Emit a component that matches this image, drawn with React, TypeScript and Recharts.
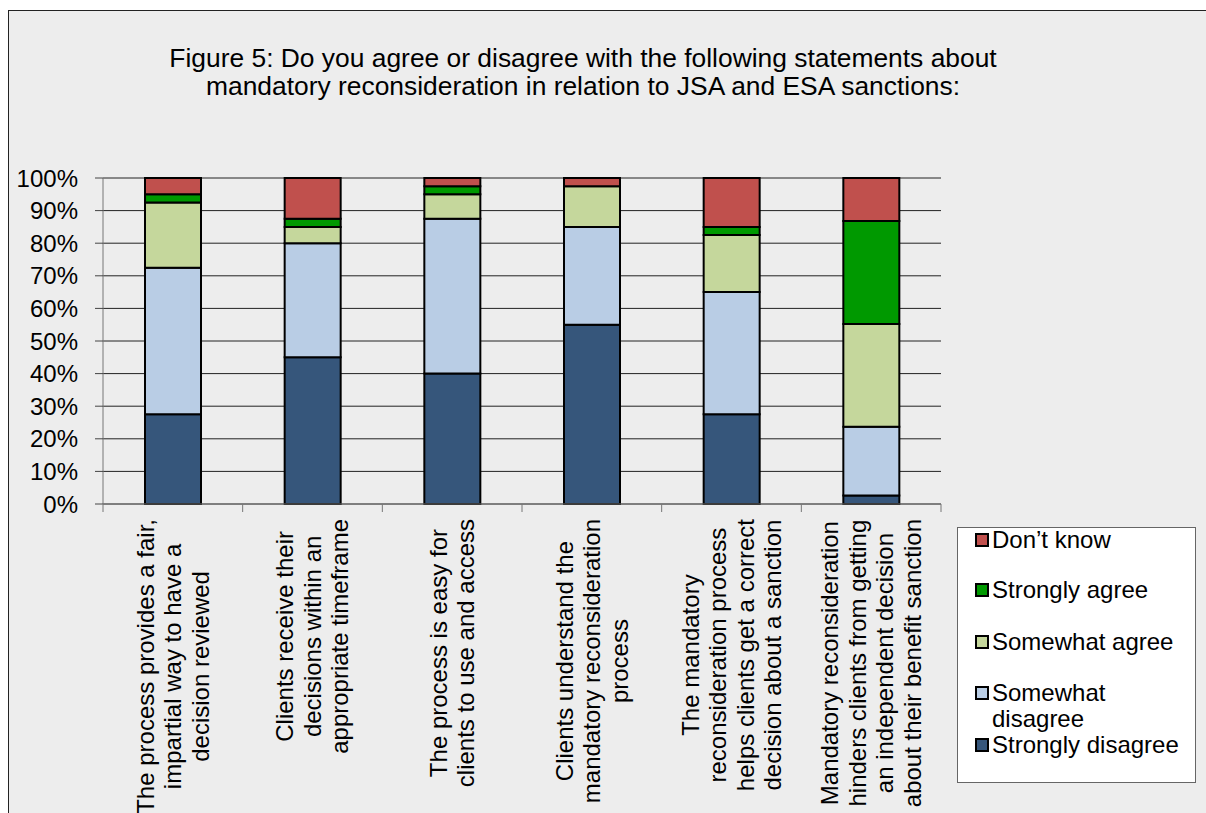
import React from "react";
import { BarChart, Bar, XAxis, YAxis, CartesianGrid, Legend } from "recharts";

const FONT = "'Liberation Sans', Arial, sans-serif";

const categories = [
  "The process provides a fair,\nimpartial way to have a\ndecision reviewed",
  "Clients receive their\ndecisions within an\nappropriate timeframe",
  "The process is easy for\nclients to use and access",
  "Clients understand the\nmandatory reconsideration\nprocess",
  "The mandatory\nreconsideration process\nhelps clients get a correct\ndecision about a sanction",
  "Mandatory reconsideration\nhinders clients from getting\nan independent decision\nabout their benefit sanction",
];

const stronglyDisagree = [27.5, 45, 40, 55, 27.5, 2.6];
const somewhatDisagree = [45, 35, 47.5, 30, 37.5, 21.1];
const somewhatAgree = [20, 5, 7.5, 12.5, 17.5, 31.6];
const stronglyAgree = [2.5, 2.5, 2.5, 0, 2.5, 31.6];
const dontKnow = [5, 12.5, 2.5, 2.5, 15, 13.2];

const yTicks = [0, 0.1, 0.2, 0.3, 0.4, 0.5, 0.6, 0.7, 0.8, 0.9, 1];

const titleLines = [
  "Figure 5: Do you agree or disagree with the following statements about",
  "mandatory reconsideration in relation to JSA and ESA sanctions:",
];

// legend reads top to bottom
const legendOrder = [
  "Don’t know",
  "Strongly agree",
  "Somewhat agree",
  "Somewhat disagree",
  "Strongly disagree",
];

const data = categories.map((name, i) => ({
  name,
  sd: stronglyDisagree[i],
  swd: somewhatDisagree[i],
  swa: somewhatAgree[i],
  sa: stronglyAgree[i],
  dk: dontKnow[i],
}));

let ctx: CanvasRenderingContext2D | null = null;
function textWidth(s: string) {
  if (!ctx) ctx = document.createElement("canvas").getContext("2d");
  if (!ctx) return s.length * 12;
  ctx.font = `24px ${FONT}`;
  return ctx.measureText(s).width;
}

const CategoryTick = (props: any) => {
  const { x, y, payload, index, visibleTicksCount } = props;
  const half = payload.offset || 838 / 12;
  const lines = String(payload.value).split("\n");
  const maxW = Math.max(...lines.map(textWidth));
  const cy = y + 15 + maxW / 2;
  return (
    <g>
      <line x1={x - half} x2={x - half} y1={y} y2={y + 8} stroke="#777" />
      {index === visibleTicksCount - 1 && (
        <line x1={x + half} x2={x + half} y1={y} y2={y + 8} stroke="#777" />
      )}
      {lines.map((l, i) => {
        const lx = x + (i - (lines.length - 1) / 2) * 27.5;
        return (
          <text
            key={i}
            x={lx}
            y={cy}
            transform={`rotate(-90 ${lx} ${cy})`}
            textAnchor="middle"
            dominantBaseline="central"
            fontSize={24}
            fill="#000"
          >
            {l}
          </text>
        );
      })}
    </g>
  );
};

// row centres inside the legend box
const legendRows = [12, 62, 114, 165, 217];

const renderLegend = (props: any) => {
  const items = [...(props.payload || [])].sort(
    (a: any, b: any) => legendOrder.indexOf(a.value) - legendOrder.indexOf(b.value)
  );
  return (
    <div
      style={{
        position: "relative",
        width: 239,
        height: 256,
        background: "#fff",
        border: "1px solid #666",
        boxSizing: "border-box",
      }}
    >
      {items.map((it: any, i: number) => (
        <div key={it.value}>
          <div
            style={{
              position: "absolute",
              left: 17,
              top: legendRows[i] - 7,
              width: 14,
              height: 14,
              background: it.color,
              border: "2px solid #000",
              boxSizing: "border-box",
            }}
          />
          <div
            style={{
              position: "absolute",
              left: 34,
              top: legendRows[i] - 13,
              width: 196,
              fontSize: 24,
              lineHeight: "26px",
              color: "#000",
              textAlign: "left",
            }}
          >
            {it.value}
          </div>
        </div>
      ))}
    </div>
  );
};

export default function App() {
  return (
    <div
      style={{
        position: "fixed",
        left: 8,
        top: 10,
        width: 1197,
        height: 802,
        borderTop: "1px solid #222",
        borderLeft: "1px solid #222",
        background: "#ededed",
        fontFamily: FONT,
      }}
    >
      <div
        style={{
          position: "absolute",
          left: 0,
          top: 33,
          width: 1148,
          textAlign: "center",
          fontSize: 26.4,
          lineHeight: "28px",
          color: "#000",
        }}
      >
        {titleLines.map((t) => (
          <div key={t}>{t}</div>
        ))}
      </div>
      <div style={{ position: "absolute", left: 0, top: 0 }}>
        <BarChart
          width={1197}
          height={802}
          data={data}
          stackOffset="expand"
          barSize={56}
          margin={{ top: 167, right: 265, bottom: 9, left: 0 }}
        >
          <CartesianGrid vertical={false} stroke="#222" />
          <XAxis
            dataKey="name"
            type="category"
            height={300}
            interval={0}
            tickSize={0}
            tickMargin={0}
            tickLine={false}
            axisLine={{ stroke: "#777" }}
            tick={<CategoryTick />}
          />
          <YAxis
            type="number"
            domain={[0, 1]}
            ticks={yTicks}
            width={94}
            tickSize={8}
            tickMargin={17}
            axisLine={{ stroke: "#777" }}
            tickLine={{ stroke: "#444" }}
            tick={{ fontSize: 24, fill: "#000" }}
            tickFormatter={(v: number) => `${Math.round(v * 100)}%`}
          />
          <Legend
            layout="vertical"
            align="center"
            verticalAlign="middle"
            content={renderLegend}
            wrapperStyle={{ left: 948, top: 516, width: 239, height: 256 }}
          />
          <Bar dataKey="sd" name="Strongly disagree" stackId="a" fill="#36567b" stroke="#000" strokeWidth={2} isAnimationActive={false} />
          <Bar dataKey="swd" name="Somewhat disagree" stackId="a" fill="#b9cde5" stroke="#000" strokeWidth={2} isAnimationActive={false} />
          <Bar dataKey="swa" name="Somewhat agree" stackId="a" fill="#c5d79c" stroke="#000" strokeWidth={2} isAnimationActive={false} />
          <Bar dataKey="sa" name="Strongly agree" stackId="a" fill="#009900" stroke="#000" strokeWidth={2} isAnimationActive={false} />
          <Bar dataKey="dk" name="Don’t know" stackId="a" fill="#c0504d" stroke="#000" strokeWidth={2} isAnimationActive={false} />
        </BarChart>
      </div>
    </div>
  );
}
